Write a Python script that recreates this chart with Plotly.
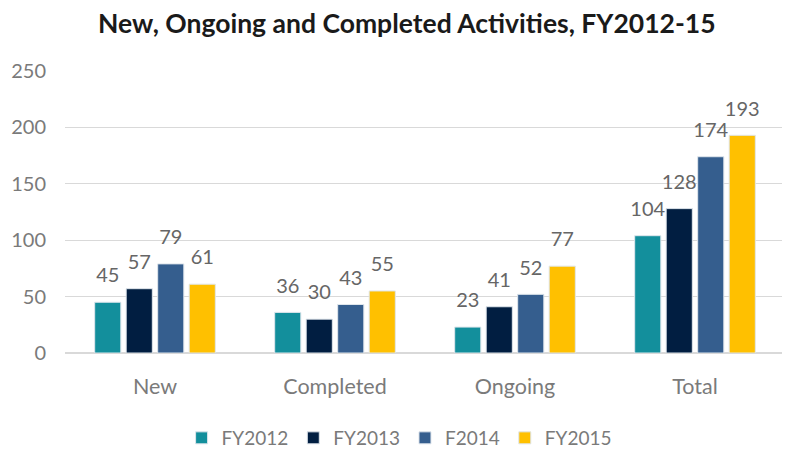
import plotly.graph_objects as go

categories = ["New", "Completed", "Ongoing", "Total"]
series_names = ["FY2012", "FY2013", "F2014", "FY2015"]
fy2012 = [45, 36, 23, 104]
fy2013 = [57, 30, 41, 128]
f2014 = [79, 43, 52, 174]
fy2015 = [61, 55, 77, 193]
colors = ["#138f9c", "#011e41", "#355e8e", "#ffc000"]

FONT = "Lato, Open Sans, sans-serif"
GRAY = "#666666"
TICKGRAY = "#7a7a7a"

fig = go.Figure()
for i, (name, vals, c) in enumerate(zip(series_names, [fy2012, fy2013, f2014, fy2015], colors)):
    fig.add_trace(go.Bar(
        x=categories, y=vals, name=name,
        marker=dict(color=c, line=dict(color="#dfe6ec", width=1)),
        offsetgroup=str(i),
    ))
    # data labels, placed above each bar via a grouped text scatter
    fig.add_trace(go.Scatter(
        x=categories, y=vals, mode="markers+text", showlegend=False,
        text=[str(v) for v in vals], textposition="top center",
        textfont=dict(size=20, color=GRAY, family=FONT),
        marker=dict(size=22, opacity=0, color=c),
        offsetgroup=str(i), cliponaxis=False, hoverinfo="skip",
    ))

# page body has an 8px margin; figure sized to fit the 790x450 window
fig.update_layout(
    width=782, height=442,
    margin=dict(l=57, r=5, t=63, b=97),
    paper_bgcolor="white", plot_bgcolor="white",
    barmode="group", bargap=0.3, bargroupgap=0.17,
    scattermode="group", scattergap=0.3,
    title=dict(text="<b>New, Ongoing and Completed Activities, FY2012-15</b>",
               x=0.51, xanchor="center", xref="container",
               y=1 - 16 / 442, yanchor="middle", yref="container",
               font=dict(size=26.5, color="#1a1a1a", family=FONT)),
    font=dict(family=FONT, color=GRAY),
    showlegend=True,
    legend=dict(orientation="h", x=0.222, xanchor="left", xref="container",
                y=1 - 430 / 442, yanchor="middle", yref="container",
                font=dict(size=19, color=TICKGRAY, family=FONT),
                itemwidth=30, traceorder="normal"),
    yaxis=dict(range=[0, 250], dtick=50, showgrid=True, gridcolor="#d9d9d9",
               gridwidth=1, zeroline=True, zerolinecolor="#d9d9d9",
               tickfont=dict(size=20, color=TICKGRAY, family=FONT),
               ticklabelstandoff=18, showline=False, automargin=False),
    xaxis=dict(tickfont=dict(size=21.5, color=TICKGRAY, family=FONT), showline=False,
               ticklabelstandoff=18, automargin=False),
)

fig.write_html("out.html")
